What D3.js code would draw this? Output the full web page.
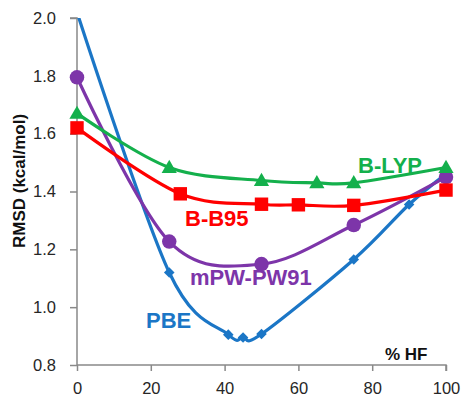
<!DOCTYPE html>
<html>
<head>
<meta charset="utf-8">
<script src="https://cdn.jsdelivr.net/npm/d3@7"></script>
<style>
  html, body { margin: 0; padding: 0; background: #fff; }
  svg { display: block; }
</style>
</head>
<body>
<svg id="chart" width="463" height="399"></svg>
<script>
// ---- data ----
const xTicks = [0, 20, 40, 60, 80, 100];
const yTicks = [0.8, 1.0, 1.2, 1.4, 1.6, 1.8, 2.0];

const pbeX = [0, 25, 41, 45, 50, 75, 90, 100];
const pbeY = [2.02, 1.12, 0.905, 0.895, 0.907, 1.165, 1.355, 1.46];

const mpwX = [0, 25, 50, 75, 100];
const mpwY = [1.795, 1.227, 1.149, 1.284, 1.45];

const bb95X = [0, 28, 50, 60, 75, 100];
const bb95Y = [1.62, 1.392, 1.356, 1.354, 1.352, 1.405];

const blypX = [0, 25, 50, 65, 75, 100];
const blypY = [1.67, 1.483, 1.438, 1.43, 1.43, 1.483];

const seriesNames = ["B-LYP", "B-B95", "mPW-PW91", "PBE"];

// ---- layout ----
const svg = d3.select("#chart");
const mLeft = 77, mRight = 446, mTop = 18, mBottom = 365;
const x = d3.scaleLinear().domain([0, 100]).range([mLeft, mRight]);
const y = d3.scaleLinear().domain([0.8, 2.0]).range([mBottom, mTop]);

const axisColor = "#898989";
const font = "'Liberation Sans', Arial, sans-serif";

// clip
svg.append("defs").append("clipPath").attr("id", "clip")
  .append("rect").attr("x", 55).attr("y", mTop).attr("width", 410).attr("height", 370);

// axes
const yAxis = svg.append("g").attr("transform", `translate(${mLeft},0)`)
  .call(d3.axisLeft(y).tickValues(yTicks).tickSize(7).tickPadding(14).tickFormat(d3.format(".1f")));
const xAxis = svg.append("g").attr("transform", `translate(0,${mBottom})`)
  .call(d3.axisBottom(x).tickValues(xTicks).tickSize(6).tickPadding(11).tickFormat(d3.format("d")));
[yAxis, xAxis].forEach(a => {
  a.selectAll("path").attr("stroke", axisColor).attr("stroke-width", 1.5);
  a.selectAll("line").attr("stroke", axisColor).attr("stroke-width", 1.5);
  a.selectAll("text").attr("fill", "#262626").style("font-family", font).style("font-size", "16.5px");
});
yAxis.select(".domain").attr("d", `M-7,${mTop}H0V${mBottom}`);
xAxis.select(".domain").attr("d", `M${mLeft},0H${mRight}V6`);

// axis titles
svg.append("text")
  .attr("transform", `translate(25,181) rotate(-90)`)
  .attr("text-anchor", "middle")
  .style("font-family", font).style("font-weight", "bold").style("font-size", "17px")
  .attr("fill", "#111")
  .text("RMSD (kcal/mol)");
svg.append("text")
  .attr("x", 385).attr("y", 360)
  .style("font-family", font).style("font-weight", "bold").style("font-size", "17px")
  .attr("fill", "#111")
  .text("% HF");

const plot = svg.append("g").attr("clip-path", "url(#clip)");
const line = d3.line().x(d => x(d[0])).y(d => y(d[1])).curve(d3.curveCatmullRom.alpha(0));

const series = [
  { name: seriesNames[0], xs: blypX, ys: blypY, color: "#14B04C", marker: "triangle", lx: 358, ly: 173 },
  { name: seriesNames[1], xs: bb95X, ys: bb95Y, color: "#FF0000", marker: "square", lx: 185, ly: 226 },
  { name: seriesNames[2], xs: mpwX, ys: mpwY, color: "#7D35A9", marker: "circle", lx: 190, ly: 285 },
  { name: seriesNames[3], xs: pbeX, ys: pbeY, color: "#1B76C6", marker: "diamond", lx: 146, ly: 328 }
];

const symbols = {
  triangle: d3.symbol().type(d3.symbolTriangle).size(100),
  square: d3.symbol().type(d3.symbolSquare).size(180),
  circle: d3.symbol().type(d3.symbolCircle).size(165),
  diamond: d3.symbol().type(d3.symbolSquare).size(56)
};

const drawOrder = [3, 2, 1, 0];
drawOrder.forEach(i => {
  const s = series[i];
  const pts = s.xs.map((v, j) => [v, s.ys[j]]);
  plot.append("path").datum(pts)
    .attr("d", line).attr("fill", "none")
    .attr("stroke", s.color).attr("stroke-width", 3.2);
  plot.selectAll(null).data(pts).enter().append("path")
    .attr("transform", d => `translate(${x(d[0])},${y(d[1]) + (s.marker === "triangle" ? 1 : 0)})` +
      (s.marker === "diamond" ? " rotate(45)" : ""))
    .attr("d", symbols[s.marker]).attr("fill", s.color);
});

series.forEach(s => {
  svg.append("text").attr("x", s.lx).attr("y", s.ly)
    .style("font-family", font).style("font-weight", "bold").style("font-size", "22px")
    .attr("fill", s.color).text(s.name);
});
</script>
</body>
</html>
